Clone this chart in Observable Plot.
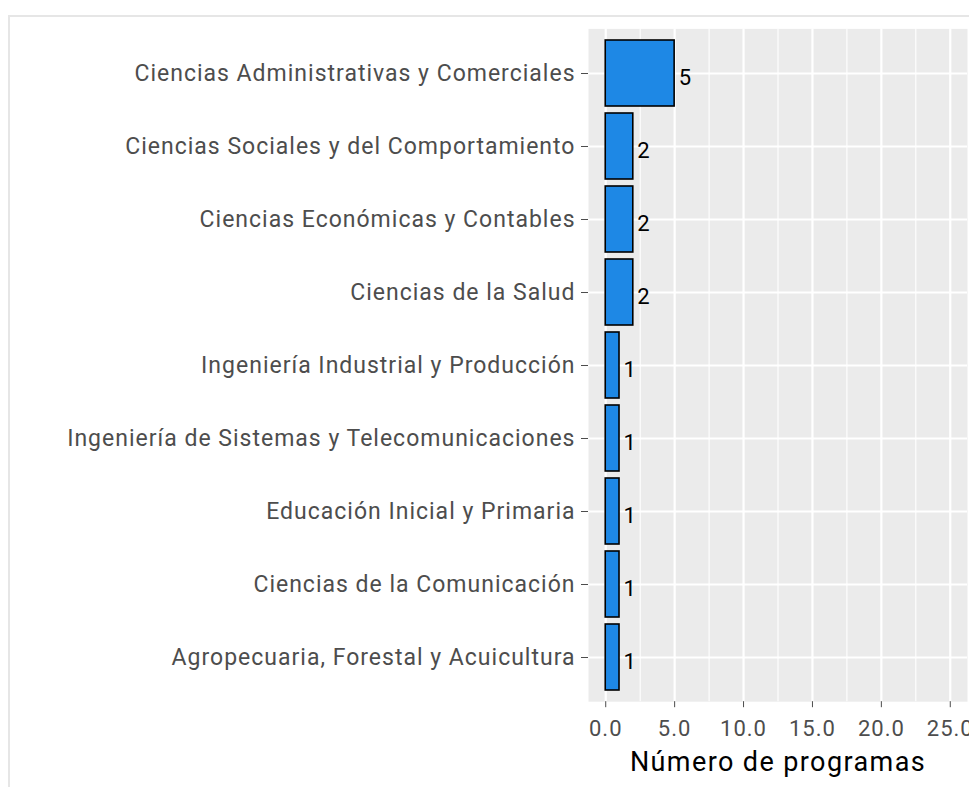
<!DOCTYPE html>
<html>
<head>
<meta charset="utf-8">
<script src="https://cdn.jsdelivr.net/npm/d3@7"></script>
<script src="https://cdn.jsdelivr.net/npm/@observablehq/plot@0.6"></script>
<style>
  html, body { margin: 0; padding: 0; background: #fff; overflow: hidden; }
  #wrap { position: relative; width: 969px; height: 787px; overflow: hidden; }
  #border { position: absolute; left: 8px; top: 15px; width: 1100px; height: 1000px; border: 2px solid #e6e6e6; box-sizing: border-box; }
  #chart { position: absolute; left: 0; top: 0; }
</style>
</head>
<body>
<div id="wrap"><div id="border"></div><div id="chart"></div></div>
<script>
const categories = [
  "Ciencias Administrativas y Comerciales",
  "Ciencias Sociales y del Comportamiento",
  "Ciencias Económicas y Contables",
  "Ciencias de la Salud",
  "Ingeniería Industrial y Producción",
  "Ingeniería de Sistemas y Telecomunicaciones",
  "Educación Inicial y Primaria",
  "Ciencias de la Comunicación",
  "Agropecuaria, Forestal y Acuicultura"
];
const counts = [5, 2, 2, 2, 1, 1, 1, 1, 1];
const xTicks = [0, 5, 10, 15, 20, 25];
const xMinor = [2.5, 7.5, 12.5, 17.5, 22.5];
const xTitle = "Número de programas";

const data = categories.map((c, i) => ({category: c, n: counts[i]}));
const font = "Roboto, Arial, 'Liberation Sans', sans-serif";

const chart = Plot.plot({
  width: 969,
  height: 787,
  marginLeft: 588,
  marginRight: 2,
  marginTop: 28.4,
  marginBottom: 85.8,
  style: {fontFamily: font, background: "transparent", overflow: "visible", letterSpacing: "1px"},
  x: {domain: [-1.25, 26.25]},
  y: {domain: categories, paddingInner: 0.1, paddingOuter: 0.15},
  marks: [
    Plot.frame({fill: "#EBEBEB", stroke: null}),
    Plot.ruleX(xMinor, {stroke: "#fff", strokeWidth: 1.1}),
    Plot.ruleX(xTicks, {stroke: "#fff", strokeWidth: 2.2}),
    Plot.ruleY(categories, {y: d => d, stroke: "#fff", strokeWidth: 2.2}),
    Plot.barX(data, {x1: 0, x2: "n", y: "category", fill: "#1E88E5", stroke: "#000", strokeWidth: 1.6}),
    Plot.text(data, {x: "n", y: "category", text: d => String(d.n), textAnchor: "start", dx: 4, dy: 4, fontSize: 22, fill: "#000"}),
    Plot.axisY({tickSize: 7, tickPadding: 6, fontSize: 23, color: "#4D4D4D", label: null}),
    Plot.axisX(xTicks, {tickSize: 6, tickPadding: 13, fontSize: 22, color: "#4D4D4D", label: null, tickFormat: d3.format(".1f")}),
    Plot.text([xTitle], {frameAnchor: "bottom", dy: 61, fontSize: 27, fill: "#000", lineAnchor: "middle"})
  ]
});
d3.select(chart).selectAll("text").filter(function() { return this.textContent === xTitle; })
  .style("letter-spacing", "1.4px");
document.getElementById("chart").appendChild(chart);
</script>
</body>
</html>
